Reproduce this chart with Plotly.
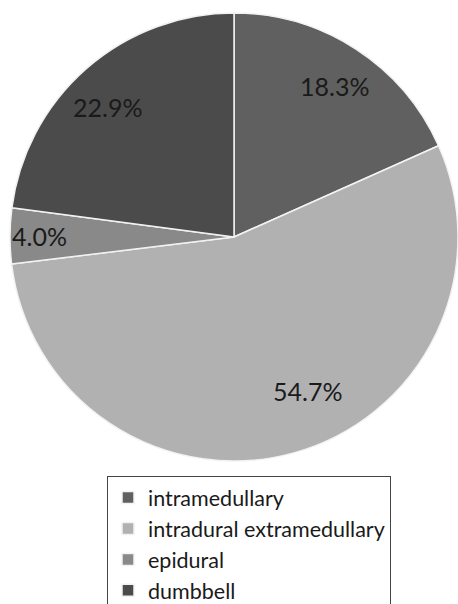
import numpy as np
import plotly.graph_objects as go

labels = ["intramedullary", "intradural extramedullary", "epidural", "dumbbell"]
values = [18.3, 54.7, 4.0, 22.9]
colors = ["#606060", "#b1b1b1", "#898989", "#4b4b4b"]

# label placement style (fraction of radius, angular shift in degrees)
label_r = [0.81, 0.76, 0.87, 0.81]
label_shift = [0.5, -10.0, 0.0, -3.0]

W, H = 458, 604
cx, cy, r = 234, 237, 224

fig = go.Figure(go.Pie(
    labels=labels,
    values=values,
    sort=False,
    direction="clockwise",
    rotation=0,
    marker=dict(colors=colors, line=dict(color="#f2f2f2", width=1.5)),
    textposition="none",
    domain=dict(x=[(cx - r) / W, min(1, (cx + r) / W)], y=[(H - cy - r) / H, (H - cy + r) / H]),
    hoverinfo="skip",
))

total = sum(values)
cum = np.cumsum([0] + values[:-1])
for v, c, fr, sh in zip(values, cum, label_r, label_shift):
    ang = np.deg2rad((c + v / 2) / total * 360 + sh)
    px = cx + fr * r * np.sin(ang)
    py = cy - fr * r * np.cos(ang)
    fig.add_annotation(
        x=px / W, y=(H - py) / H, xref="paper", yref="paper",
        text=f"{v:.1f}%", showarrow=False,
        xanchor="center", yanchor="middle",
        font=dict(family="Lato", size=25, color="#1a1a1a"),
    )

fig.update_layout(
    width=W, height=H,
    margin=dict(l=0, r=0, t=0, b=0, autoexpand=False),
    paper_bgcolor="white",
    showlegend=True,
    legend=dict(
        x=107 / W, xanchor="left", y=(H - 476) / H, yanchor="top",
        bgcolor="white", bordercolor="#444", borderwidth=1,
        font=dict(family="Lato", size=21.5, color="#1a1a1a"),
    ),
)

fig.write_html("out.html")
